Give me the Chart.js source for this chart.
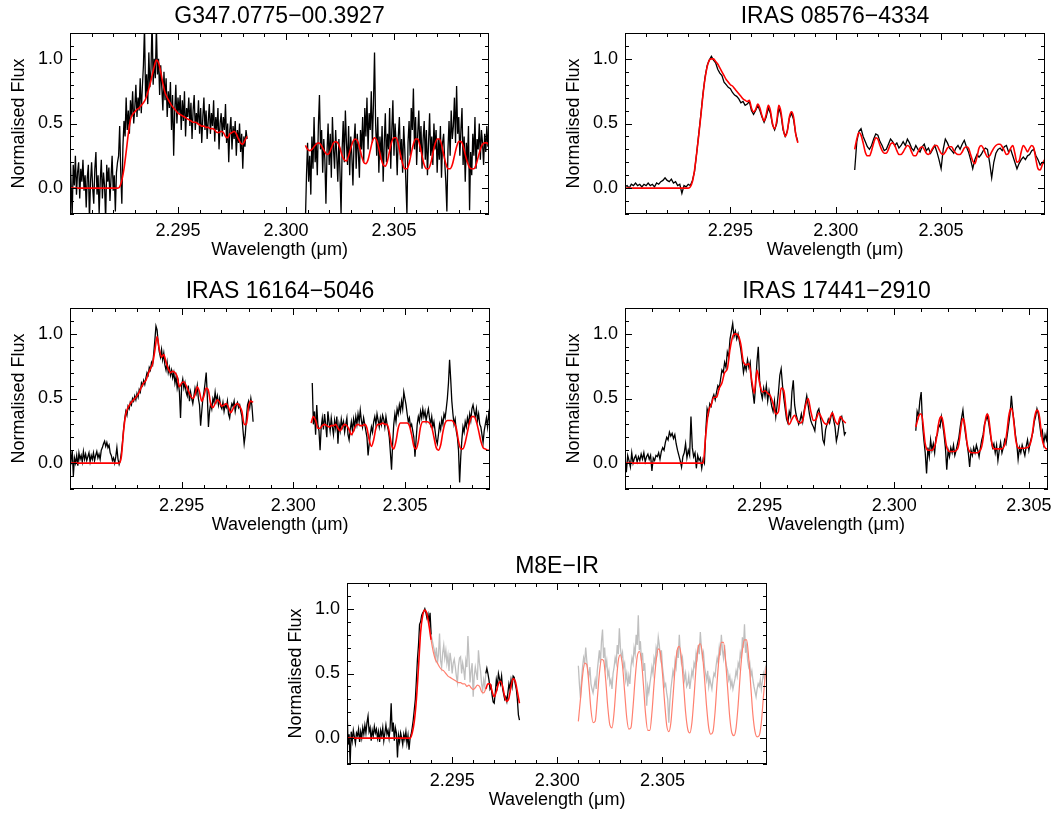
<!DOCTYPE html>
<html>
<head>
<meta charset="utf-8">
<script src="https://cdn.jsdelivr.net/npm/chart.js@4.4.1/dist/chart.umd.min.js"></script>
<style>
  html, body { margin: 0; padding: 0; background: #fff; overflow: hidden; }
  body { width: 1051px; height: 815px; position: relative; }
  canvas { position: absolute; }
</style>
</head>
<body>
<canvas id="p1"></canvas>
<canvas id="p2"></canvas>
<canvas id="p3"></canvas>
<canvas id="p4"></canvas>
<canvas id="p5"></canvas>
<script>
// ---- data (normalised flux, regular wavelength grids) ----
const xTickValues = [2.295, 2.300, 2.305];
const yTickValues = [0.0, 0.5, 1.0];

// G347.0775-00.3927
const g347ObsAStart = 2.2900, g347ObsBStart = 2.3009, g347ObsStep = 0.00005;
const g347ObsA = [0.30, 0.05, -0.22, 0.18, 0.02, 0.25, -0.05, 0.12, 0.20, -0.08,
  0.15, 0.05, 0.22, -0.02, 0.10, -0.15, 0.08, 0.18, -0.25, 0.05,
  0.20, 0.00, -0.12, 0.15, 0.28, -0.05, 0.10, -0.20, 0.06, 0.22,
  -0.08, 0.12, 0.02, -0.25, 0.18, 0.05, 0.16, -0.10, 0.08, 0.25,
  -0.02, 0.10, -0.18, 0.12, 0.20,
  0.25, 0.48, 0.12, -0.12, 0.32, 0.52, 0.40, 0.70, 0.45, 0.60, 0.42, 0.68, 0.55, 0.75, 0.50, 0.62,
  0.80, 0.55, 0.70, 0.60, 0.85, 0.58, 0.78, 0.95, 1.25, 0.70, 0.88, 0.65, 1.05, 0.78, 0.92, 1.30, 0.80, 1.00, 0.85, 1.25,
  0.88, 1.00, 0.72, 0.95, 0.78, 0.60, 0.90, 0.68, 0.85, 0.55, 0.75, 0.62, 0.82, 0.45, 0.72, 0.25, 0.60, 0.80, 0.50, 0.70,
  0.58, 0.72, 0.45, 0.68, 0.52, 0.75, 0.40, 0.62, 0.55, 0.70,
  0.48, 0.66, 0.38, 0.60, 0.72, 0.45, 0.58, 0.50, 0.68, 0.42,
  0.62, 0.35, 0.55, 0.70, 0.45, 0.60, 0.38, 0.52, 0.65, 0.42,
  0.58, 0.48, 0.68, 0.36, 0.55, 0.45, 0.62, 0.30, 0.50, 0.58,
  0.40, 0.55, 0.45, 0.65, 0.35, 0.50, 0.20, 0.45, 0.55, 0.30,
  0.48, 0.38, 0.52, 0.25, 0.45, 0.35, 0.50, 0.28, 0.42, 0.15,
  0.40, 0.32, 0.45, 0.38];
const g347ObsB = [-0.25, 0.10, 0.35, 0.05, 0.25, -0.05, 0.40, 0.15, 0.55, 0.20,
  0.35, 0.10, 0.48, 0.72, 0.30, 0.45, 0.12, 0.38, 0.22, -0.12,
  0.28, 0.50, 0.18, 0.42, 0.08, 0.55, 0.30, 0.15, 0.45, 0.25,
  0.05, 0.38, 0.12, -0.20, 0.30, 0.52, 0.20, 0.60, 0.35, 0.18,
  0.48, 0.10, 0.40, 0.25, 0.02, 0.35, 0.50, 0.15, 0.42, 0.28,
  0.08, 0.45, 0.30, 0.55, 0.20, 0.62, 0.40, 0.70, 0.30, 0.58,
  0.45, 0.75, 0.35, 0.65, 1.05, 0.50, 0.25, 0.55, 0.12, 0.40,
  0.22, 0.48, 0.05, 0.35, 0.58, 0.20, 0.42, 0.30, 0.62, 0.15,
  0.45, 0.68, 0.25, 0.50, 0.35, 0.10, 0.40, 0.55, 0.22, 0.38,
  0.12, 0.48, 0.30, 0.05, -0.20, 0.35, 0.52, 0.25, 0.62, 0.45,
  0.77, 0.30, 0.55, 0.18, 0.42, 0.60, 0.28, 0.48, 0.15, 0.38,
  0.52, 0.22, 0.45, 0.10, 0.35, 0.58, 0.25, 0.40, 0.18, 0.50,
  0.30, 0.45, 0.12, 0.38, 0.22, 0.48, 0.08, 0.35, 0.42, 0.20,
  0.05, -0.18, 0.30, 0.52, 0.25, 0.60, 0.38, 0.48, 0.70, 0.35,
  0.79, 0.42, 0.55, 0.25, 0.45, 0.62, 0.18, 0.40, 0.05, 0.35,
  0.20, 0.48, -0.17, 0.28, 0.10, 0.42, 0.25, 0.55, 0.15, 0.38,
  0.30, 0.50, 0.22, 0.45, 0.35, 0.18, 0.42, 0.28, 0.48, 0.32,
  0.40, 0.25];
const g347FitAStart = 2.2900, g347FitBStart = 2.3009, g347FitStep = 0.0001;
const g347FitA = [0, 0, 0, 0, 0, 0, 0, 0, 0, 0, 0, 0, 0, 0, 0, 0, 0, 0, 0, 0, 0, 0, 0,
  0.01, 0.06, 0.15, 0.28, 0.42, 0.53, 0.57, 0.59, 0.61, 0.62, 0.64, 0.66, 0.69, 0.74, 0.80, 0.87, 0.94, 0.99, 0.97, 0.90,
  0.81, 0.74, 0.70, 0.67, 0.64, 0.62, 0.60, 0.58, 0.57, 0.56, 0.55, 0.54, 0.53, 0.52, 0.51, 0.51, 0.50, 0.49, 0.48, 0.48,
  0.47, 0.47, 0.46, 0.46, 0.45, 0.43, 0.43, 0.44, 0.43, 0.40, 0.39, 0.42, 0.43, 0.44, 0.42, 0.38, 0.35, 0.34, 0.37, 0.40];
const g347FitB = [0.33, 0.30, 0.29, 0.30, 0.32, 0.34, 0.35, 0.34, 0.31, 0.28,
  0.26, 0.27, 0.31, 0.35, 0.36, 0.35, 0.31, 0.25, 0.22, 0.21,
  0.25, 0.31, 0.36, 0.38, 0.37, 0.32, 0.25, 0.20, 0.19, 0.22,
  0.29, 0.36, 0.39, 0.37, 0.31, 0.23, 0.18, 0.17, 0.21, 0.29,
  0.36, 0.39, 0.39, 0.34, 0.26, 0.19, 0.15, 0.15, 0.19, 0.27,
  0.34, 0.38, 0.38, 0.33, 0.25, 0.18, 0.15, 0.15, 0.19, 0.27,
  0.34, 0.38, 0.38, 0.34, 0.26, 0.19, 0.15, 0.15, 0.18, 0.25,
  0.32, 0.36, 0.36, 0.33, 0.26, 0.20, 0.16, 0.15, 0.15, 0.18,
  0.24, 0.30, 0.34, 0.35, 0.35, 0.33, 0.31];

// IRAS 08576-4334
const i08576ObsAStart = 2.2900, i08576ObsBStart = 2.3009, i08576Step = 0.0001;
const i08576ObsA = [0.01, 0.02, 0.00, 0.03, 0.02, 0.04, 0.02, 0.03, 0.01, 0.03, 0.02, 0.04, 0.02, 0.03, 0.01, 0.04,
  0.03, 0.05, 0.06, 0.08, 0.06, 0.05, 0.07, 0.04, 0.05, 0.02, 0.03, -0.04, 0.02, 0.01, 0.03,
  0.02, 0.06, 0.13, 0.27, 0.42, 0.57, 0.73, 0.86, 0.95, 0.99, 1.02, 0.99, 0.97, 0.92, 0.89, 0.87, 0.82, 0.80, 0.78, 0.77,
  0.74, 0.72, 0.71, 0.69, 0.66, 0.67, 0.64, 0.65, 0.67, 0.60, 0.57, 0.60, 0.64, 0.60, 0.55, 0.51, 0.55, 0.62, 0.58, 0.49,
  0.45, 0.50, 0.62, 0.57, 0.45, 0.40, 0.44, 0.54, 0.58, 0.53, 0.42, 0.36];
const i08576ObsB = [0.14, 0.36, 0.44, 0.46, 0.40, 0.36, 0.32, 0.30, 0.33, 0.38,
  0.42, 0.41, 0.36, 0.33, 0.29, 0.30, 0.34, 0.38, 0.36, 0.33,
  0.35, 0.31, 0.33, 0.36, 0.33, 0.38, 0.35, 0.31, 0.29, 0.33,
  0.30, 0.28, 0.32, 0.34, 0.29, 0.31, 0.27, 0.30, 0.33, 0.28,
  0.22, 0.15, 0.30, 0.38, 0.35, 0.31, 0.29, 0.27, 0.31, 0.33,
  0.30, 0.34, 0.37, 0.32, 0.28, 0.22, 0.15, 0.22, 0.26, 0.24,
  0.26, 0.29, 0.31, 0.30, 0.20, 0.08, 0.20, 0.27, 0.30, 0.31,
  0.29, 0.32, 0.33, 0.28, 0.30, 0.25, 0.20, 0.15, 0.19, 0.22,
  0.24, 0.22, 0.25, 0.26, 0.29, 0.30, 0.25, 0.22, 0.18, 0.20, 0.19];
const i08576FitA = [0, 0, 0, 0, 0, 0, 0, 0, 0, 0, 0, 0, 0, 0, 0, 0, 0, 0, 0, 0, 0, 0, 0, 0, 0, 0, 0, 0, 0, 0, 0,
  0.01, 0.05, 0.14, 0.27, 0.41, 0.56, 0.72, 0.85, 0.94, 0.99, 1.00, 1.00, 0.98, 0.96, 0.93, 0.90, 0.87, 0.84, 0.82, 0.80,
  0.79, 0.77, 0.75, 0.73, 0.71, 0.69, 0.68, 0.67, 0.68, 0.62, 0.59, 0.61, 0.65, 0.62, 0.56, 0.52, 0.57, 0.64, 0.60, 0.50,
  0.46, 0.52, 0.64, 0.59, 0.47, 0.40, 0.44, 0.55, 0.59, 0.55, 0.42, 0.35];
const i08576FitB = [0.30, 0.38, 0.43, 0.41, 0.35, 0.28, 0.25, 0.25, 0.29, 0.35,
  0.39, 0.38, 0.33, 0.29, 0.27, 0.27, 0.30, 0.34, 0.35, 0.33,
  0.29, 0.26, 0.26, 0.28, 0.31, 0.33, 0.32, 0.28, 0.25, 0.25,
  0.28, 0.31, 0.32, 0.30, 0.27, 0.26, 0.28, 0.31, 0.33, 0.33,
  0.30, 0.27, 0.26, 0.28, 0.31, 0.32, 0.32, 0.29, 0.27, 0.26,
  0.26, 0.28, 0.31, 0.32, 0.31, 0.26, 0.21, 0.19, 0.24, 0.31,
  0.33, 0.31, 0.27, 0.24, 0.25, 0.28, 0.31, 0.33, 0.34, 0.34,
  0.32, 0.29, 0.26, 0.27, 0.31, 0.33, 0.27, 0.20, 0.21, 0.28,
  0.33, 0.31, 0.28, 0.31, 0.33, 0.31, 0.22, 0.15, 0.14, 0.18, 0.22];

// IRAS 16164-5046
const i16164ObsAStart = 2.2900, i16164ObsBStart = 2.30085, i16164ObsStep = 0.00005;
const i16164ObsA = [0.08, 0.02, 0.10, -0.10, 0.04, 0.00, 0.06, -0.02, 0.08, 0.03,
  0.06, 0.01, 0.09, 0.03, 0.07, 0.02, 0.05, 0.08, 0.01, 0.06,
  0.03, 0.08, 0.02, 0.06, 0.09, 0.04, 0.07, 0.03, 0.10, 0.12,
  0.15, 0.17, 0.13, 0.16, 0.12, 0.14, 0.08, 0.06, 0.02, 0.04,
  0.00, 0.05, 0.12, 0.03, -0.01, 0.02, 0.08, 0.16, 0.26, 0.34,
  0.40, 0.37, 0.44, 0.42, 0.47, 0.45, 0.50, 0.48, 0.52, 0.49,
  0.54, 0.51, 0.57, 0.55, 0.62, 0.60, 0.64, 0.61, 0.66, 0.70,
  0.68, 0.74, 0.72, 0.78, 0.76, 0.85, 0.95, 1.06, 1.03, 0.93,
  0.86, 0.82, 0.88, 0.80, 0.85, 0.76, 0.72, 0.78, 0.70, 0.74,
  0.68, 0.72, 0.66, 0.70, 0.62, 0.67, 0.58, 0.63, 0.55, 0.35,
  0.60, 0.65, 0.58, 0.62, 0.55, 0.52, 0.60, 0.48, 0.55, 0.50,
  0.46, 0.52, 0.58, 0.54, 0.60, 0.50, 0.45, 0.29, 0.40, 0.50,
  0.55, 0.62, 0.70, 0.52, 0.28, 0.40, 0.46, 0.42, 0.50, 0.47,
  0.55, 0.48, 0.52, 0.45, 0.50, 0.44, 0.42, 0.47, 0.40, 0.45,
  0.43, 0.48, 0.38, 0.35, 0.42, 0.46, 0.44, 0.48, 0.40, 0.45,
  0.47, 0.43, 0.45, 0.40, 0.36, 0.25, 0.15, 0.22, 0.35, 0.45,
  0.48, 0.43, 0.50, 0.44, 0.32];
const i16164ObsB = [0.62, 0.30, 0.40, 0.22, 0.45, 0.30, 0.25, 0.10, 0.28, 0.35,
  0.26, 0.38, 0.30, 0.20, 0.40, 0.32, 0.25, 0.35, 0.28, 0.22,
  0.33, 0.27, 0.36, 0.15, 0.30, 0.25, 0.34, 0.28, 0.32, 0.24,
  0.30, 0.35, 0.22, 0.18, 0.26, 0.32, 0.25, 0.34, 0.28, 0.36,
  0.30, 0.38, 0.32, 0.41, 0.33, 0.28, 0.35, 0.30, 0.25, 0.20,
  0.06, 0.15, 0.22, 0.28, 0.24, 0.32, 0.36, 0.30, 0.38, 0.33,
  0.28, 0.35, 0.30, 0.37, 0.34, 0.28, 0.36, 0.30, 0.26, 0.20,
  0.08, -0.05, 0.15, 0.30, 0.38, 0.32, 0.42, 0.38, 0.45, 0.40,
  0.48, 0.42, 0.55, 0.50, 0.45, 0.38, 0.32, 0.35, 0.28, 0.30,
  0.25, 0.20, 0.05, 0.18, 0.30, 0.36, 0.32, 0.40, 0.35, 0.42,
  0.36, 0.40, 0.33, 0.38, 0.42, 0.35, 0.30, 0.36, 0.28, 0.32,
  0.25, 0.18, 0.15, 0.22, 0.30, 0.26, 0.34, 0.30, 0.38, 0.35,
  0.42, 0.50, 0.62, 0.80, 0.65, 0.48, 0.38, 0.30, 0.34, 0.25,
  0.20, 0.10, -0.15, 0.05, 0.18, 0.28, 0.24, 0.32, 0.28, 0.35,
  0.30, 0.38, 0.33, 0.42, 0.45, 0.40, 0.36, 0.42, 0.33, 0.38,
  0.30, 0.28, 0.22, 0.16, 0.25, 0.30, 0.35, 0.28, 0.38, 0.32,
  0.26];
const i16164FitAStart = 2.2900, i16164FitBStart = 2.3008, i16164FitStep = 0.0001;
const i16164FitA = [0, 0, 0, 0, 0, 0, 0, 0, 0, 0, 0, 0, 0, 0, 0, 0, 0, 0, 0, 0, 0, 0, 0,
  0.05, 0.25, 0.38, 0.43, 0.46, 0.48, 0.50, 0.52, 0.55, 0.59, 0.62, 0.64, 0.69, 0.73, 0.77, 0.87, 0.98, 0.88, 0.82,
  0.84, 0.78, 0.73, 0.70, 0.71, 0.70, 0.67, 0.59, 0.62, 0.63, 0.60, 0.56, 0.52, 0.50, 0.53, 0.59, 0.55, 0.48, 0.52,
  0.58, 0.56, 0.46, 0.43, 0.46, 0.49, 0.47, 0.44, 0.45, 0.46, 0.43, 0.39, 0.42, 0.45, 0.46, 0.44, 0.40, 0.30, 0.30,
  0.44, 0.48, 0.47];
const i16164FitB = [0.31, 0.36, 0.33, 0.27, 0.27, 0.29, 0.30, 0.29, 0.28, 0.29,
  0.29, 0.30, 0.27, 0.25, 0.28, 0.30, 0.29, 0.26, 0.22, 0.25,
  0.29, 0.30, 0.29, 0.29, 0.30, 0.27, 0.18, 0.13, 0.18, 0.27,
  0.30, 0.30, 0.31, 0.30, 0.30, 0.24, 0.14, 0.11, 0.17, 0.27,
  0.31, 0.31, 0.31, 0.31, 0.29, 0.22, 0.13, 0.11, 0.17, 0.28,
  0.32, 0.32, 0.32, 0.31, 0.28, 0.20, 0.12, 0.10, 0.14, 0.24,
  0.31, 0.33, 0.33, 0.33, 0.31, 0.27, 0.17, 0.11, 0.11, 0.16,
  0.24, 0.32, 0.36, 0.36, 0.32, 0.25, 0.17, 0.12, 0.11, 0.10,
  0.10];

// IRAS 17441-2910
const i17441ObsAStart = 2.2900, i17441ObsBStart = 2.3008, i17441ObsStep = 0.00005;
const i17441ObsA = [0.05, -0.07, 0.06, 0.02, -0.03, 0.08, 0.00, 0.04, 0.06, 0.01,
  0.05, 0.02, 0.07, 0.03, 0.08, 0.01, 0.05, 0.07, 0.03, 0.06,
  -0.06, 0.04, 0.02, 0.06, 0.05, 0.08, 0.03, 0.09, 0.12, 0.10,
  0.16, 0.20, 0.18, 0.24, 0.21, 0.23, 0.19, 0.22, 0.15, 0.10,
  0.06, 0.02, -0.03, 0.05, 0.08, 0.15, 0.04, 0.10, 0.06, 0.36,
  0.12, 0.05, 0.08, -0.04, 0.06, 0.02, 0.04, -0.04, 0.03, 0.00,
  0.25, 0.42, 0.38, 0.46, 0.44, 0.50, 0.53, 0.49, 0.55, 0.60,
  0.58, 0.65, 0.72, 0.70, 0.78, 0.74, 0.86, 0.82, 0.96, 1.02,
  1.08, 0.98, 1.02, 0.96, 1.00, 0.94, 0.88, 0.80, 0.70, 0.76,
  0.72, 0.80, 0.74, 0.78, 0.62, 0.55, 0.46, 0.60, 0.78, 0.90,
  0.64, 0.55, 0.50, 0.58, 0.52, 0.60, 0.48, 0.56, 0.50, 0.44,
  0.40, 0.48, 0.36, 0.45, 0.55, 0.68, 0.73, 0.60, 0.50, 0.42,
  0.34, 0.31, 0.40, 0.36, 0.55, 0.64, 0.45, 0.38, 0.34, 0.30,
  0.33, 0.38, 0.32, 0.40, 0.46, 0.52, 0.45, 0.38, 0.33, 0.30,
  0.28, 0.25, 0.35, 0.40, 0.42, 0.36, 0.30, 0.18, 0.15, 0.26,
  0.30, 0.34, 0.31, 0.36, 0.39, 0.33, 0.28, 0.17, 0.22, 0.30,
  0.34, 0.36, 0.30, 0.22, 0.24];
const i17441ObsB = [0.25, 0.40, 0.36, 0.48, 0.55, 0.30, 0.18, 0.08, -0.08, 0.12,
  0.05, 0.18, 0.10, 0.15, 0.08, 0.20, 0.22, 0.30, 0.28, 0.36,
  0.30, 0.22, 0.12, -0.05, 0.10, 0.05, 0.12, 0.08, 0.14, 0.06,
  0.10, 0.15, 0.20, 0.28, 0.35, 0.41, 0.30, 0.22, 0.15, 0.08,
  -0.03, 0.10, 0.06, 0.12, 0.08, 0.14, 0.10, 0.05, 0.12, 0.18,
  0.22, 0.30, 0.33, 0.37, 0.32, 0.25, 0.18, 0.12, 0.15, 0.08,
  0.14, 0.02, 0.10, 0.16, 0.08, 0.12, 0.18, 0.15, 0.22, 0.30,
  0.38, 0.52, 0.40, 0.32, 0.22, 0.15, 0.03, 0.12, 0.08, 0.14,
  0.10, 0.06, 0.13, 0.18, 0.10, 0.16, 0.20, 0.24, 0.32, 0.36,
  0.42, 0.38, 0.30, 0.22, 0.25, 0.15, 0.22, 0.18, 0.28, 0.20];
const i17441FitAStart = 2.2900, i17441FitAStep = 0.0001;
const i17441FitA = [0, 0, 0, 0, 0, 0, 0, 0, 0, 0, 0, 0, 0, 0, 0, 0, 0, 0, 0, 0, 0, 0, 0, 0, 0, 0, 0, 0, 0, 0,
  0.22, 0.40, 0.45, 0.51, 0.51, 0.58, 0.62, 0.70, 0.73, 0.88, 0.98, 1.00, 0.99, 0.92, 0.78, 0.76, 0.77, 0.65,
  0.54, 0.72, 0.62, 0.55, 0.56, 0.54, 0.52, 0.46, 0.38, 0.40, 0.58, 0.56, 0.38, 0.30, 0.34, 0.37, 0.33, 0.31,
  0.33, 0.44, 0.50, 0.40, 0.33, 0.34, 0.39, 0.35, 0.31, 0.30, 0.34, 0.39, 0.33, 0.30, 0.36, 0.33, 0.31];
const i17441FitBStart = 2.3008, i17441FitBStep = 0.00005;
const i17441FitB = [0.28, 0.32, 0.36, 0.38, 0.38, 0.34, 0.24, 0.15, 0.11, 0.10,
  0.10, 0.10, 0.10, 0.11, 0.13, 0.17, 0.24, 0.31, 0.35, 0.36,
  0.33, 0.26, 0.18, 0.12, 0.10, 0.09, 0.09, 0.09, 0.09, 0.09,
  0.10, 0.11, 0.15, 0.23, 0.31, 0.345, 0.32, 0.25, 0.16, 0.11,
  0.09, 0.08, 0.08, 0.08, 0.08, 0.08, 0.08, 0.09, 0.10, 0.13,
  0.19, 0.28, 0.35, 0.38, 0.36, 0.28, 0.19, 0.13, 0.11, 0.11,
  0.11, 0.11, 0.11, 0.11, 0.11, 0.12, 0.14, 0.19, 0.27, 0.36,
  0.41, 0.425, 0.39, 0.30, 0.20, 0.14, 0.12, 0.115, 0.115, 0.115,
  0.115, 0.115, 0.12, 0.12, 0.13, 0.15, 0.19, 0.26, 0.34, 0.39,
  0.41, 0.40, 0.35, 0.26, 0.18, 0.14, 0.12, 0.11, 0.11, 0.11];

// M8E-IR (grey / light red: masked part of the spectrum)
const m8eMask = [2.2940, 2.2966];
const m8eObsAStart = 2.2900, m8eObsBStart = 2.3010, m8eObsStep = 0.00005;
const m8eObsA = [0.25, -0.05, 0.03, -0.20, 0.05, -0.02, 0.06, 0.01, -0.04, 0.04,
  0.02, 0.07, -0.03, 0.05, 0.00, 0.08, 0.03, 0.10, 0.04, 0.12,
  0.17, 0.05, 0.08, -0.02, 0.06, 0.02, 0.09, 0.04, 0.07, 0.00,
  0.05, -0.03, 0.06, 0.02, 0.08, -0.02, 0.04, 0.10, 0.03, 0.06,
  0.00, 0.08, 0.27, 0.05, 0.12, -0.02, 0.08, 0.04, -0.15, 0.02,
  -0.03, 0.04, 0.00, -0.05, 0.03, -0.01, 0.05, -0.04, 0.02, -0.09,
  0.00, 0.03, 0.08, 0.14, 0.22, 0.30, 0.45, 0.61, 0.72, 0.88,
  0.90, 0.95, 0.97, 0.98, 1.00, 0.97, 0.93, 0.96, 0.90, 0.97,
  0.80, 0.76, 0.72, 0.68, 0.62, 0.70, 0.58, 0.65, 0.81, 0.60,
  0.55, 0.66, 0.72, 0.62, 0.68, 0.58, 0.64, 0.52, 0.66, 0.60,
  0.50, 0.58, 0.61, 0.55, 0.48, 0.43, 0.56, 0.62, 0.63, 0.50,
  0.58, 0.53, 0.45, 0.60, 0.55, 0.79, 0.62, 0.43, 0.52, 0.58,
  0.32, 0.48, 0.55, 0.50, 0.45, 0.68, 0.58, 0.52, 0.42, 0.37,
  0.45, 0.40,
  0.50, 0.54, 0.50, 0.45, 0.38, 0.40, 0.33, 0.28,
  0.27, 0.35, 0.45, 0.40, 0.50, 0.46, 0.42, 0.48, 0.38, 0.34,
  0.30, 0.32, 0.285, 0.35, 0.42, 0.38, 0.45, 0.40, 0.48, 0.47,
  0.42, 0.38, 0.30, 0.18, 0.14];
const m8eObsB = [0.56, 0.42, 0.31, 0.45, 0.55, 0.62, 0.58, 0.70, 0.60, 0.52,
  0.48, 0.55, 0.42, 0.38, 0.35, 0.40, 0.45, 0.38, 0.52, 0.60,
  0.68, 0.58, 0.75, 0.84, 0.62, 0.70, 0.55, 0.60, 0.48, 0.52,
  0.42, 0.45, 0.38, 0.50, 0.55, 0.62, 0.58, 0.72, 0.65, 0.85,
  0.70, 0.62, 0.66, 0.55, 0.58, 0.45, 0.50, 0.40, 0.48, 0.42,
  0.55, 0.62, 0.58, 0.70, 0.65, 0.80, 0.72, 0.95, 0.68, 0.75,
  0.60, 0.66, 0.52, 0.58, 0.45, 0.25, 0.40, 0.35, 0.42, 0.48,
  0.55, 0.50, 0.62, 0.58, 0.70, 0.66, 0.78, 0.72, 0.62, 0.68,
  0.55, 0.48, 0.40, 0.42, 0.35, 0.30, 0.12, 0.28, 0.38, 0.45,
  0.52, 0.48, 0.60, 0.55, 0.68, 0.62, 0.80, 0.66, 0.58, 0.62,
  0.52, 0.45, 0.50, 0.40, 0.42, 0.48, 0.38, 0.45, 0.52, 0.48,
  0.58, 0.55, 0.66, 0.62, 0.72, 0.65, 0.82, 0.70, 0.62, 0.66,
  0.55, 0.50, 0.45, 0.52, 0.40, 0.46, 0.42, 0.38, 0.45, 0.50,
  0.48, 0.56, 0.62, 0.58, 0.70, 0.64, 0.80, 0.68, 0.62, 0.72,
  0.60, 0.55, 0.52, 0.45, 0.48, 0.40, 0.44, 0.38, 0.42, 0.46,
  0.52, 0.48, 0.58, 0.55, 0.66, 0.62, 0.78, 0.70, 0.88, 0.66,
  0.72, 0.60, 0.55, 0.58, 0.48, 0.52, 0.45, 0.40, 0.36, 0.32,
  0.38, 0.42, 0.40, 0.45, 0.38, 0.44, 0.50, 0.46, 0.55, 0.58,
  0.52];
const m8eFitAStart = 2.2900, m8eFitBStart = 2.3010, m8eFitStep = 0.0001;
const m8eFitA = [0, 0, 0, 0, 0, 0, 0, 0, 0, 0, 0, 0, 0, 0, 0, 0, 0, 0, 0, 0, 0, 0, 0, 0, 0, 0, 0, 0, 0, 0, 0,
  0.04, 0.13, 0.30, 0.55, 0.82, 0.95, 0.99, 0.96, 0.87, 0.76, 0.67, 0.61, 0.58, 0.55, 0.53, 0.52, 0.50, 0.48,
  0.47, 0.46, 0.45, 0.44, 0.43, 0.43, 0.42, 0.42, 0.40, 0.41, 0.39, 0.375, 0.39, 0.41, 0.40, 0.36, 0.35, 0.38,
  0.42, 0.42, 0.36, 0.32, 0.36, 0.42, 0.44, 0.40, 0.32, 0.285, 0.31, 0.40, 0.46, 0.44, 0.36, 0.27];
const m8eFitB = [0.13, 0.30, 0.48, 0.58, 0.57, 0.42, 0.22, 0.12, 0.13, 0.30,
  0.50, 0.61, 0.60, 0.45, 0.24, 0.10, 0.08, 0.20, 0.42, 0.60,
  0.645, 0.56, 0.36, 0.16, 0.07, 0.08, 0.24, 0.46, 0.63, 0.67,
  0.60, 0.40, 0.18, 0.06, 0.06, 0.20, 0.42, 0.60, 0.69, 0.66,
  0.50, 0.28, 0.10, 0.05, 0.12, 0.32, 0.54, 0.68, 0.71, 0.62,
  0.42, 0.20, 0.07, 0.04, 0.12, 0.32, 0.55, 0.70, 0.73, 0.65,
  0.46, 0.24, 0.08, 0.03, 0.05, 0.20, 0.44, 0.64, 0.74, 0.74,
  0.60, 0.38, 0.16, 0.04, 0.02, 0.08, 0.26, 0.50, 0.68, 0.76,
  0.76, 0.62, 0.40, 0.18, 0.05, 0.01, 0.02, 0.12, 0.32, 0.50,
  0.61];

// ---- styles ----
const FONT = "'Liberation Sans', Arial, Helvetica, sans-serif";
const OBS = '#000000', FIT = '#ff0000', MASKED_OBS = '#bfbfbf', MASKED_FIT = '#ff8070';
const FRAME = { left: 70, top: 33, bottom: 48, side: 70 };

Chart.defaults.font.family = FONT;
Chart.defaults.color = '#000';

function spectrum(start, step, values) {
  return values.map((v, i) => ({ x: +(start + i * step).toFixed(6), y: v }));
}

function obsLine(points, color) {
  return { data: points, borderColor: color || OBS, borderWidth: 1.3, tension: 0, order: 2, clip: 0 };
}
function fitLine(points, color) {
  return { data: points, borderColor: color || FIT, borderWidth: 1.6,
    cubicInterpolationMode: 'monotone', order: 1, clip: 0 };
}
function inMask(ctx) {
  return ctx.p0.parsed.x >= m8eMask[0] - 1e-7 && ctx.p1.parsed.x <= m8eMask[1] + 1e-7;
}

// inward tick marks on all four sides plus the box
const frameTicks = {
  id: 'frameTicks',
  afterDraw(chart) {
    const { ctx, chartArea: a, scales: { x, y } } = chart;
    ctx.save();
    ctx.strokeStyle = '#000';
    ctx.lineWidth = 1;
    ctx.beginPath();
    for (let k = Math.ceil(x.min * 1000 - 1e-6); k <= x.max * 1000 + 1e-6; k++) {
      const px = Math.round(x.getPixelForValue(k / 1000)) + 0.5;
      const len = k % 5 === 0 ? 7 : 4;
      ctx.moveTo(px, a.bottom); ctx.lineTo(px, a.bottom - len);
      ctx.moveTo(px, a.top); ctx.lineTo(px, a.top + len);
    }
    for (let k = -2; k <= 12; k++) {
      const py = Math.round(y.getPixelForValue(k / 10)) + 0.5;
      const len = k % 5 === 0 ? 7 : 4;
      ctx.moveTo(a.left, py); ctx.lineTo(a.left + len, py);
      ctx.moveTo(a.right, py); ctx.lineTo(a.right - len, py);
    }
    ctx.stroke();
    ctx.strokeRect(Math.round(a.left) + 0.5, Math.round(a.top) + 0.5,
      Math.round(a.width) - 1, Math.round(a.height) - 1);
    ctx.restore();
  }
};

function drawPanel(id, box, title, xMax, datasets) {
  const canvas = document.getElementById(id);
  const w = box.right - box.left + 2 * FRAME.side;
  const h = box.bottom - box.top + FRAME.top + FRAME.bottom;
  canvas.width = w;
  canvas.height = h;
  canvas.style.width = w + 'px';
  canvas.style.height = h + 'px';
  canvas.style.left = (box.left - FRAME.side) + 'px';
  canvas.style.top = (box.top - FRAME.top) + 'px';

  return new Chart(canvas, {
    type: 'line',
    data: { datasets: datasets },
    options: {
      responsive: false,
      animation: false,
      devicePixelRatio: 1,
      events: [],
      layout: { autoPadding: false, padding: { left: 0, right: FRAME.side, top: 0, bottom: 0 } },
      elements: { point: { radius: 0 } },
      plugins: {
        legend: { display: false },
        tooltip: { enabled: false },
        title: {
          display: true, text: title, color: '#000', fullSize: false,
          font: { size: 23, weight: 'normal' },
          padding: { top: 3.2, bottom: 2.2 }
        }
      },
      scales: {
        x: {
          type: 'linear', min: 2.2900, max: xMax,
          grid: { display: false, drawTicks: false },
          border: { display: false },
          afterBuildTicks: s => { s.ticks = xTickValues.map(v => ({ value: v })); },
          afterFit: s => { s.height = FRAME.bottom; s.paddingLeft = 0; s.paddingRight = 0; },
          ticks: { autoSkip: false, maxRotation: 0, padding: 6, color: '#000',
            font: { size: 18 }, callback: v => v.toFixed(3) },
          title: { display: true, text: 'Wavelength (\u03bcm)', color: '#000',
            font: { size: 18 }, padding: { top: 0, bottom: 1 } }
        },
        y: {
          min: -0.2, max: 1.2,
          grid: { display: false, drawTicks: false },
          border: { display: false },
          afterBuildTicks: s => { s.ticks = yTickValues.map(v => ({ value: v })); },
          afterFit: s => { s.width = FRAME.left; s.paddingTop = 0; s.paddingBottom = 0; },
          ticks: { padding: 7, color: '#000', font: { size: 18 }, callback: v => v.toFixed(1) },
          title: { display: true, text: 'Normalised Flux', color: '#000',
            font: { size: 18 }, padding: { top: 8, bottom: 0 } }
        }
      }
    },
    plugins: [frameTicks]
  });
}

drawPanel('p1', { left: 70, top: 33, right: 489, bottom: 214 }, 'G347.0775\u221200.3927', 2.30940, [
  fitLine(spectrum(g347FitAStart, g347FitStep, g347FitA)),
  fitLine(spectrum(g347FitBStart, g347FitStep, g347FitB)),
  obsLine(spectrum(g347ObsAStart, g347ObsStep, g347ObsA)),
  obsLine(spectrum(g347ObsBStart, g347ObsStep, g347ObsB))
]);

drawPanel('p2', { left: 625, top: 33, right: 1045, bottom: 214 }, 'IRAS 08576\u22124334', 2.30993, [
  fitLine(spectrum(i08576ObsAStart, i08576Step, i08576FitA)),
  fitLine(spectrum(i08576ObsBStart, i08576Step, i08576FitB)),
  obsLine(spectrum(i08576ObsAStart, i08576Step, i08576ObsA)),
  obsLine(spectrum(i08576ObsBStart, i08576Step, i08576ObsB))
]);

drawPanel('p3', { left: 70, top: 308, right: 490, bottom: 489 }, 'IRAS 16164\u22125046', 2.30881, [
  fitLine(spectrum(i16164FitAStart, i16164FitStep, i16164FitA)),
  fitLine(spectrum(i16164FitBStart, i16164FitStep, i16164FitB)),
  obsLine(spectrum(i16164ObsAStart, i16164ObsStep, i16164ObsA)),
  obsLine(spectrum(i16164ObsBStart, i16164ObsStep, i16164ObsB))
]);

drawPanel('p4', { left: 625, top: 308, right: 1048, bottom: 489 }, 'IRAS 17441\u22122910', 2.30571, [
  fitLine(spectrum(i17441FitAStart, i17441FitAStep, i17441FitA)),
  fitLine(spectrum(i17441FitBStart, i17441FitBStep, i17441FitB)),
  obsLine(spectrum(i17441ObsAStart, i17441ObsStep, i17441ObsA)),
  obsLine(spectrum(i17441ObsBStart, i17441ObsStep, i17441ObsB))
]);

const m8eFitLeft = fitLine(spectrum(m8eFitAStart, m8eFitStep, m8eFitA));
m8eFitLeft.segment = { borderColor: ctx => inMask(ctx) ? MASKED_FIT : FIT,
  borderWidth: ctx => inMask(ctx) ? 1.2 : 1.6 };
const m8eObsLeft = obsLine(spectrum(m8eObsAStart, m8eObsStep, m8eObsA));
m8eObsLeft.segment = { borderColor: ctx => inMask(ctx) ? MASKED_OBS : OBS };
const m8eFitRight = fitLine(spectrum(m8eFitBStart, m8eFitStep, m8eFitB), MASKED_FIT);
m8eFitRight.borderWidth = 1.2;

drawPanel('p5', { left: 347, top: 583, right: 767, bottom: 764 }, 'M8E\u2212IR', 2.30997, [
  m8eFitLeft,
  m8eFitRight,
  m8eObsLeft,
  obsLine(spectrum(m8eObsBStart, m8eObsStep, m8eObsB), MASKED_OBS)
]);
</script>
</body>
</html>
